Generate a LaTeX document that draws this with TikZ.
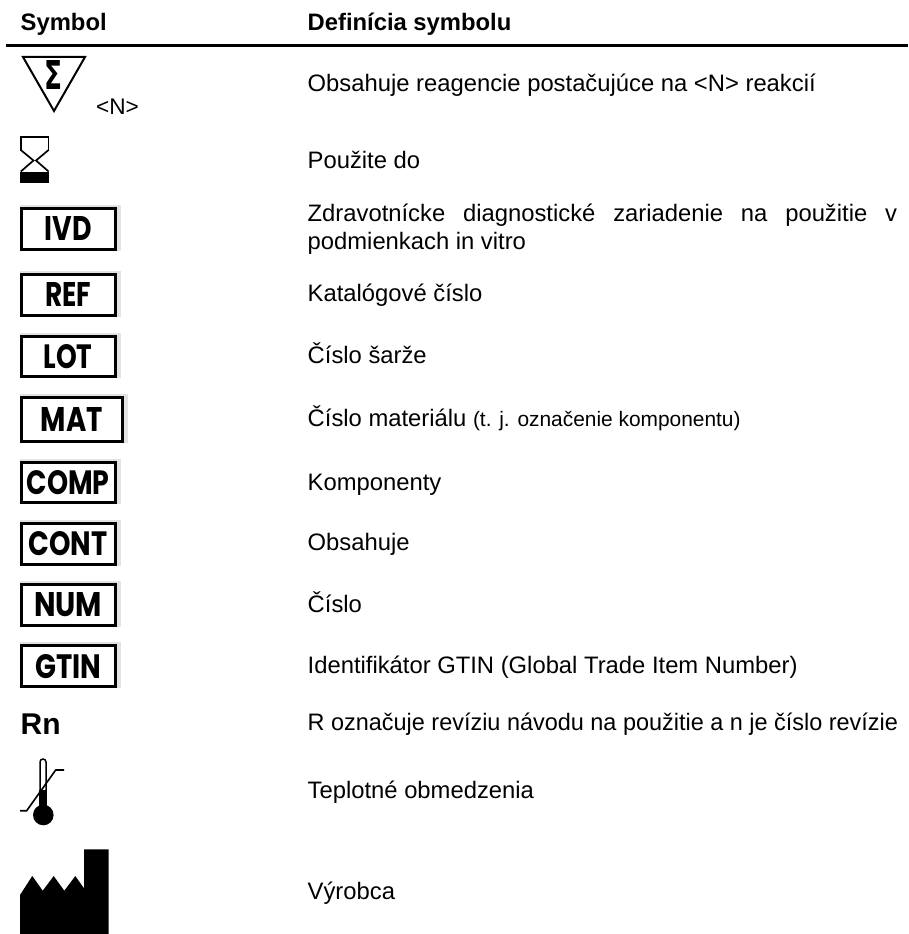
\documentclass[tikz,border=0pt]{standalone}
\usepackage{fontspec}
\usepackage{graphicx}
\setmainfont{Liberation Sans}
\newfontfamily\boxfont{Poppins}
\newfontfamily\sigfont{DejaVu Sans}
\newcommand{\boxtxt}[3]{\resizebox{#2pt}{#3pt}{\boxfont\bfseries #1}}
\tikzset{
  x=1pt,y=-1pt,
  hdr/.style={anchor=base west,inner sep=0pt,font=\fontsize{23.8}{26}\selectfont\bfseries},
  def/.style={anchor=base west,inner sep=0pt,font=\fontsize{23.8}{27.6}\selectfont},
  lab/.style={inner sep=0pt,anchor=center},
}
\newcommand{\symbox}[7]{% name, x1,y1,x2,y2,text,textwidth
  \fill[black!11] (#2,#3-2) rectangle (#4+4.3,#5);
  \draw[line width=3pt,fill=white] (#2+1.5,#3+1.5) rectangle (#4-1.5,#5-1.5);
  \node[lab] (#1) at ({(#2+#4)/2},{(#3+#5)/2}) {\boxtxt{#6}{#7}{24}};
}
\begin{document}
\begin{tikzpicture}
\useasboundingbox (0,0) rectangle (908,934);
\fill[white] (0,0) rectangle (908,934);
\node[hdr] (h1) at (20.5,30.7) {Symbol};
\node[hdr] (h2) at (307.5,30.7) {Definícia symbolu};
\fill[black] (6,44.5) rectangle (908,47);
% sigma
\draw[line width=2pt,miter limit=10] (23,57) -- (85,57) -- (54,111) -- cycle;
\node[lab] (sig) at (54,74.5) {\resizebox{18pt}{29pt}{\sigfont\bfseries Σ}};
\node[anchor=base west,inner sep=0pt,font=\fontsize{22.6}{24}\selectfont] (n) at (96,114.5) {<N>};
% hourglass
\draw[line width=1.7pt] (20.8,150.5) -- (20.8,137) -- (48.6,137) -- (48.6,150.5);
\draw[line width=1.7pt] (20.8,150) -- (33.5,160.5) -- (20.8,171.5);
\draw[line width=1.7pt] (48.6,150) -- (36,160.5) -- (48.6,171.5);
\fill[black] (20,171.5) rectangle (49.4,182.7);
% boxes
\symbox{ivd}{19.5}{206.7}{116.7}{250.7}{IVD}{47}
\symbox{ref}{19.5}{272.7}{116.7}{316.7}{REF}{46}
\symbox{lot}{19.5}{334.5}{116.7}{378}{LOT}{49}
\symbox{mat}{19.5}{395.7}{124}{442.7}{MAT}{62}
\symbox{comp}{19.5}{460.7}{116.7}{504.3}{COMP}{83}
\symbox{cont}{19.5}{522}{116.7}{565.7}{CONT}{79}
\symbox{num}{19.5}{583.3}{116.7}{626.7}{NUM}{68}
\symbox{gtin}{19.5}{644.3}{116.7}{688.3}{GTIN}{66}
\node[anchor=base west,inner sep=0pt,font=\fontsize{30}{32}\selectfont\bfseries] (rn) at (20.5,734) {Rn};
% thermometer
\draw[line width=1.5pt] (40,795) -- (40,762) arc[start angle=180,end angle=360,radius=3] -- (46,795);
\fill[black] (39.3,790) rectangle (46.7,806);
\fill[black] (43.3,815) circle[radius=10.3];
\draw[line width=1.6pt] (20,810.7) -- (26.7,810.7) -- (55.7,770) -- (64,770);
% factory
\fill[black] (20,934) -- (20,895) -- (32.3,876) -- (42.7,890.7) -- (53.7,876) -- (64.3,890.7) -- (75.3,876) -- (84,888.3) -- (84,849.3) -- (108.7,849.3) -- (108.7,934) -- cycle;
% definitions
\node[def] (d1) at (307.5,91.7) {Obsahuje reagencie postačujúce na <N> reakcií};
\node[def] (d2) at (307.5,168) {Použite do};
\node[def,text width=589.5pt,align=left] (d3) at (307.5,221.7) {\spaceskip=0pt \hbox to 589.5pt{Zdravotnícke diagnostické zariadenie na použitie v}\\podmienkach in vitro};
\node[def] (d4) at (307.5,301.7) {Katalógové číslo};
\node[def] (d5) at (307.5,363.3) {Číslo šarže};
\node[def] (d6) at (307.5,426.7) {Číslo materiálu {\fontsize{20.9}{22}\selectfont (t. j. označenie komponentu)}};
\node[def] (d7) at (307.5,490) {Komponenty};
\node[def] (d8) at (307.5,550.7) {Obsahuje};
\node[def] (d9) at (307.5,612.7) {Číslo};
\node[def] (d10) at (307.5,673.3) {Identifikátor GTIN (Global Trade Item Number)};
\node[def,xscale=0.985] (d11) at (307.5,730.7) {R označuje revíziu návodu na použitie a n je číslo revízie};
\node[def] (d12) at (307.5,798.3) {Teplotné obmedzenia};
\node[def] (d13) at (307.5,899.3) {Výrobca};
\end{tikzpicture}
\end{document}
